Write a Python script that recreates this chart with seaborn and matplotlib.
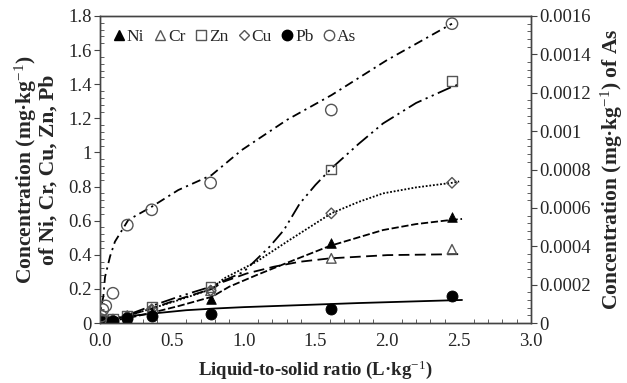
import numpy as np
import pandas as pd
import seaborn as sns
import matplotlib
matplotlib.use("Agg")
import matplotlib.pyplot as plt
from matplotlib.lines import Line2D
from matplotlib.ticker import MultipleLocator

# ---------------- data ----------------
ls_ratio = [0.005, 0.01, 0.02, 0.04, 0.09, 0.19, 0.36, 0.77, 1.61, 2.45]
ni = [0.002, 0.004, 0.006, 0.01, 0.015, 0.03, 0.065, 0.141, 0.471, 0.623]
cr = [0.003, 0.005, 0.008, 0.012, 0.02, 0.04, 0.08, 0.19, 0.379, 0.432]
zn = [0.004, 0.006, 0.01, 0.015, 0.025, 0.045, 0.093, 0.21, 0.901, 1.418]
cu = [0.003, 0.005, 0.008, 0.012, 0.02, 0.04, 0.08, 0.19, 0.643, 0.822]
pb = [0.002, 0.004, 0.006, 0.008, 0.012, 0.027, 0.043, 0.051, 0.082, 0.158]
as_ = [0.000018, 0.000036, 0.00007, 0.000089, 0.000155, 0.00051, 0.00059,
       0.00073, 0.00111, 0.00156]

# trend curves
ni_fit_x = [0, 0.2, 0.36, 0.55, 0.78, 0.9, 1.09, 1.32, 1.6, 1.97, 2.2, 2.44, 2.52]
ni_fit_y = [0, 0.03, 0.06, 0.1, 0.154, 0.213, 0.281, 0.359, 0.452, 0.545, 0.58, 0.604, 0.61]
cr_fit_x = [0, 0.2, 0.36, 0.55, 0.78, 0.86, 1.02, 1.21, 1.39, 1.6, 2.0, 2.53]
cr_fit_y = [0, 0.045, 0.085, 0.14, 0.2, 0.242, 0.29, 0.33, 0.359, 0.379, 0.398, 0.404]
zn_fit_x = [0, 0.2, 0.36, 0.55, 0.78, 0.84, 1.0, 1.18, 1.28, 1.39, 1.5, 1.61, 1.8, 1.97, 2.2, 2.44, 2.5]
zn_fit_y = [0, 0.05, 0.1, 0.155, 0.215, 0.24, 0.30, 0.447, 0.545, 0.70, 0.81, 0.906, 1.05, 1.17, 1.29, 1.381, 1.40]
cu_fit_x = [0, 0.2, 0.36, 0.55, 0.78, 0.86, 1.09, 1.32, 1.61, 1.8, 1.97, 2.2, 2.45, 2.5]
cu_fit_y = [0, 0.045, 0.085, 0.135, 0.2, 0.26, 0.36, 0.487, 0.643, 0.71, 0.76, 0.795, 0.822, 0.83]
pb_fit_x = [0, 0.05, 0.1, 0.2, 0.36, 0.6, 0.8, 1.0, 1.4, 1.8, 2.2, 2.52]
pb_fit_y = [0, 0.015, 0.025, 0.04, 0.055, 0.075, 0.085, 0.093, 0.105, 0.117, 0.127, 0.135]
as_fit_x = [0, 0.003, 0.01, 0.023, 0.035, 0.07, 0.104, 0.197, 0.36, 0.545, 0.777,
            0.986, 1.3, 1.612, 1.995, 2.45]
as_fit_y = [0, 0.000053, 0.000089, 0.000137, 0.00024, 0.000347, 0.000424, 0.000537,
            0.000606, 0.000693, 0.000771, 0.000901, 0.001058, 0.001188, 0.001369, 0.00156]

left_ticks = [0, 0.2, 0.4, 0.6, 0.8, 1.0, 1.2, 1.4, 1.6, 1.8]
left_labels = ["0", "0.2", "0.4", "0.6", "0.8", "1", "1.2", "1.4", "1.6", "1.8"]
right_ticks = [0, 0.0002, 0.0004, 0.0006, 0.0008, 0.001, 0.0012, 0.0014, 0.0016]
right_labels = ["0", "0.0002", "0.0004", "0.0006", "0.0008", "0.001", "0.0012", "0.0014", "0.0016"]
x_ticks = [0.0, 0.5, 1.0, 1.5, 2.0, 2.5, 3.0]
x_labels = ["0.0", "0.5", "1.0", "1.5", "2.0", "2.5", "3.0"]

# ---------------- style ----------------
sns.set_style("white")
plt.rcParams['font.family'] = ['Liberation Serif', 'DejaVu Serif']
plt.rcParams['mathtext.fontset'] = 'custom'
plt.rcParams['mathtext.rm'] = 'Liberation Serif'
plt.rcParams['mathtext.bf'] = 'Liberation Serif:bold'
plt.rcParams['mathtext.it'] = 'Liberation Serif:italic'

fig = plt.figure(figsize=(6.27, 3.83), dpi=100)
ax = fig.add_axes([100/627, 1-323/383, (531-100)/627, (323-16)/383])
ax2 = ax.twinx()

K = 'black'
lw = 1.3
curves = [
    (ni_fit_x, ni_fit_y, (0, (4, 1.5))),
    (cr_fit_x, cr_fit_y, (0, (6, 3))),
    (zn_fit_x, zn_fit_y, (0, (8, 2.5, 1.2, 2.5, 1.2, 2.5))),
    (cu_fit_x, cu_fit_y, (0, (1, 1))),
    (pb_fit_x, pb_fit_y, '-'),
]
for cx, cy, st in curves:
    sns.lineplot(x=cx, y=cy, ax=ax, color=K, linewidth=lw, linestyle=st, sort=False)
sns.lineplot(x=as_fit_x, y=as_fit_y, ax=ax2, color=K, linewidth=lw,
             linestyle=(0, (5, 2.5, 1.2, 2.5)), sort=False)

ms = 48
gray = '#555555'
sns.scatterplot(x=ls_ratio, y=ni, ax=ax, marker='^', s=ms, color=K, edgecolor=K, zorder=5)
sns.scatterplot(x=ls_ratio, y=cr, ax=ax, marker='^', s=ms, facecolor='none', edgecolor=gray, linewidth=1, zorder=5)
sns.scatterplot(x=ls_ratio, y=zn, ax=ax, marker='s', s=ms, facecolor='none', edgecolor=gray, linewidth=1, zorder=5)
sns.scatterplot(x=ls_ratio, y=cu, ax=ax, marker='D', s=ms*0.6, facecolor='none', edgecolor=gray, linewidth=1, zorder=5)
sns.scatterplot(x=ls_ratio, y=pb, ax=ax, marker='o', s=ms*1.3, color=K, edgecolor=K, zorder=5)
sns.scatterplot(x=ls_ratio, y=as_, ax=ax2, marker='o', s=ms*1.4, facecolor='none', edgecolor=gray, linewidth=1, zorder=5)

ax.set_xlim(0, 3.0)
ax.set_ylim(0, 1.8)
ax2.set_ylim(0, 0.0016)

ax.set_xticks(x_ticks)
ax.set_xticklabels(x_labels)
ax.set_yticks(left_ticks)
ax.set_yticklabels(left_labels)
ax2.set_yticks(right_ticks)
ax2.set_yticklabels(right_labels)
ax.xaxis.set_minor_locator(MultipleLocator(0.1))
ax.yaxis.set_minor_locator(MultipleLocator(0.04))
ax2.yaxis.set_minor_locator(MultipleLocator(0.00004))

spc = '#444444'
for a in (ax, ax2):
    for s in a.spines.values():
        s.set_color(spc)
        s.set_linewidth(1.0)
tls = 13.5
ax.tick_params(axis='x', which='major', direction='in', length=5, color=spc, labelsize=tls, pad=7)
ax.tick_params(axis='x', which='minor', direction='in', length=3, color=spc, bottom=True)
ax.tick_params(axis='y', which='major', direction='out', length=4, color=spc, labelsize=tls, pad=2)
ax.tick_params(axis='y', which='minor', direction='in', length=3, color=spc, left=True)
ax2.tick_params(axis='y', which='major', direction='out', length=4, color=spc, labelsize=tls, pad=2)
ax2.tick_params(axis='y', which='minor', direction='in', length=3, color=spc, right=True)

ax.set_xlabel("Liquid-to-solid ratio (L·kg$^{-1}$)", fontsize=13.5, fontweight='bold', labelpad=6)
ax.set_ylabel("Concentration (mg·kg$^{-1}$)\nof Ni, Cr, Cu, Zn, Pb", fontsize=15.5,
              fontweight='bold', linespacing=0.95, labelpad=7)
ax2.set_ylabel("Concentration (mg·kg$^{-1}$) of As", fontsize=15.5, fontweight='bold',
               rotation=90, labelpad=6)

handles = [
    Line2D([], [], marker='^', ls='none', color=K, markersize=7),
    Line2D([], [], marker='^', ls='none', markerfacecolor='none', markeredgecolor=gray, markersize=7),
    Line2D([], [], marker='s', ls='none', markerfacecolor='none', markeredgecolor=gray, markersize=7),
    Line2D([], [], marker='D', ls='none', markerfacecolor='none', markeredgecolor=gray, markersize=5.5),
    Line2D([], [], marker='o', ls='none', color=K, markersize=7.5),
    Line2D([], [], marker='o', ls='none', markerfacecolor='none', markeredgecolor=gray, markersize=7.5),
]
ax.legend(handles, ["Ni", "Cr", "Zn", "Cu", "Pb", "As"], ncol=6, loc='upper left',
          frameon=False, handlelength=0.7, handletextpad=0.1, columnspacing=0.55,
          fontsize=12.5, bbox_to_anchor=(0.0, 1.0), borderaxespad=0.35)

fig.savefig("out.png", dpi=100)
